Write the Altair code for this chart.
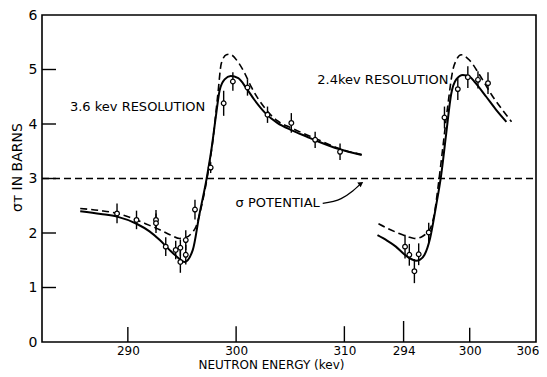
import altair as alt
import pandas as pd

# ---------------- data ----------------
# Left panel: 3.6 keV resolution (energies in keV)
left_solid_E = [285.6, 287.5, 289.0, 290.8, 292.0, 292.95, 293.8, 294.5, 295.25, 296.0, 296.6,
                297.25, 297.71, 298.17, 298.48, 298.94, 299.5, 300.2, 300.94, 301.7, 302.7,
                303.8, 305.2, 306.5, 307.7, 309.5, 311.6]
left_solid_S = [2.40, 2.35, 2.30, 2.17, 2.03, 1.87, 1.70, 1.57, 1.47, 1.69, 2.33,
                2.97, 3.52, 4.20, 4.62, 4.82, 4.88, 4.84, 4.66, 4.44, 4.20,
                4.02, 3.88, 3.77, 3.67, 3.54, 3.43]
left_dash_E = [285.6, 287.5, 289.0, 290.8, 292.0, 292.95, 294.0, 294.8, 295.4, 295.9, 296.3,
               296.79, 297.4, 297.86, 298.32, 298.63, 299.1, 299.4, 300.17, 300.8, 301.4,
               302.7, 303.8, 305.2, 307.7, 309.5, 311.6]
left_dash_S = [2.45, 2.41, 2.36, 2.24, 2.14, 2.06, 1.96, 1.90, 1.92, 2.00, 2.12,
               2.48, 3.10, 3.71, 4.56, 5.11, 5.27, 5.28, 5.14, 4.93, 4.68,
               4.28, 4.06, 3.92, 3.70, 3.55, 3.44]
left_pts_E = [289.0, 290.8, 292.6, 292.6, 293.5, 294.42, 294.85, 294.85, 295.35, 295.35, 296.2,
              297.65, 298.85, 299.7, 301.05, 302.9, 305.1, 307.3, 309.6]
left_pts_S = [2.36, 2.24, 2.24, 2.18, 1.75, 1.69, 1.73, 1.47, 1.87, 1.60, 2.43,
              3.20, 4.38, 4.78, 4.67, 4.17, 4.02, 3.71, 3.49]
left_pts_err = [0.18, 0.17, 0.18, 0.18, 0.17, 0.17, 0.15, 0.20, 0.18, 0.18, 0.18,
                0.10, 0.23, 0.17, 0.15, 0.15, 0.18, 0.15, 0.15]

# Right panel: 2.4 keV resolution (energies in keV)
right_solid_E = [291.63, 292.5, 293.3, 294.0, 294.52, 295.13, 295.5, 295.9, 296.4, 296.95,
                 297.4, 297.87, 298.32, 298.78, 299.38, 299.99, 300.5, 301.5, 302.4, 303.33]
right_solid_S = [1.96, 1.86, 1.75, 1.62, 1.54, 1.49, 1.51, 1.60, 1.90, 2.50,
                 3.05, 3.83, 4.55, 4.82, 4.90, 4.87, 4.76, 4.50, 4.26, 4.04]
right_dash_E = [291.72, 292.6, 293.6, 294.4, 294.98, 295.4, 295.73, 296.1, 296.5, 296.8, 297.1,
                297.55, 298.0, 298.47, 298.78, 299.23, 299.99, 300.9, 302.1, 303.0, 303.8]
right_dash_S = [2.17, 2.08, 1.99, 1.93, 1.90, 1.91, 1.94, 2.00, 2.12, 2.36, 2.80,
                3.55, 4.32, 4.99, 5.17, 5.27, 5.17, 4.90, 4.50, 4.25, 4.04]
right_pts_E = [294.13, 294.52, 294.98, 295.37, 296.28, 297.71, 298.92, 299.83, 300.75, 301.66]
right_pts_S = [1.75, 1.60, 1.30, 1.61, 2.01, 4.12, 4.64, 4.86, 4.81, 4.75]
right_pts_err = [0.22, 0.20, 0.22, 0.20, 0.18, 0.20, 0.20, 0.20, 0.16, 0.20]

sigma_potential = 3.0
left_ticks = [290, 300, 310]
right_ticks = [294, 300, 306]
y_ticks = [0, 1, 2, 3, 4, 5, 6]

# arrow from "σ POTENTIAL" label to the dashed line (left-axis keV, barns)
arrow_E = [308.0, 309.7, 310.77, 311.54]
arrow_S = [2.545, 2.63, 2.77, 2.91]

# ---------------- composite x axis (two broken energy scales) ----------------
X_MIN, X_MAX = 282.07, 327.7
R0, RS = 315.47, 1.0178   # right panel: position of 294 keV and relative scale


def right_pos(E):
    return [R0 + (e - 294) * RS for e in E]


curves = pd.concat([
    pd.DataFrame({"x": left_solid_E, "y": left_solid_S, "c": "ls", "kind": "solid"}),
    pd.DataFrame({"x": right_pos(right_solid_E), "y": right_solid_S, "c": "rs", "kind": "solid"}),
    pd.DataFrame({"x": left_dash_E, "y": left_dash_S, "c": "ld", "kind": "dash"}),
    pd.DataFrame({"x": right_pos(right_dash_E), "y": right_dash_S, "c": "rd", "kind": "dash"}),
])
pts = pd.concat([
    pd.DataFrame({"x": left_pts_E, "y": left_pts_S, "e": left_pts_err}),
    pd.DataFrame({"x": right_pos(right_pts_E), "y": right_pts_S, "e": right_pts_err}),
])
pts["lo"] = pts["y"] - pts["e"]
pts["hi"] = pts["y"] + pts["e"]

tick_pos = left_ticks + right_pos(right_ticks)
xt = pd.DataFrame({"x": tick_pos, "len": [0.275, 0.29, 0.29, 0.385, 0.26, 0.0]})
yt = pd.DataFrame({"y": y_ticks[1:-1]})

FONT = "DejaVu Sans"
xs = alt.Scale(domain=[X_MIN, X_MAX], nice=False, zero=False)
ys = alt.Scale(domain=[0, 6], nice=False, zero=False)

label_expr = ("datum.value > 312 ? format(round((datum.value - %s)/%s + 294), 'd') : "
              "format(datum.value, 'd')" % (R0, RS))

base_axis_x = alt.Axis(values=tick_pos, labelExpr=label_expr, ticks=False, domain=False,
                       grid=False, labelFontSize=12, labelPadding=3, labelFlush=2,
                       labelFlushOffset=3,
                       title="NEUTRON ENERGY (kev)", titleFontSize=12, titleFontWeight="normal",
                       titleX=229, titleY=26, titleBaseline="alphabetic", titleAnchor="middle",
                       titleAlign="center", labelColor="black", titleColor="black",
                       labelFont=FONT, titleFont=FONT)
base_axis_y = alt.Axis(values=y_ticks, format="d", ticks=False, domain=False, grid=False,
                       labelFontSize=14, labelPadding=5, title="σᴛ  IN  BARNS",
                       titleFontSize=14, titleFontWeight="normal", titleX=-18, titleY=152,
                       titleAngle=-90, titleBaseline="bottom", titleAlign="center",
                       labelColor="black", titleColor="black", labelFont=FONT, titleFont=FONT)

# horizontal potential line
hline = alt.Chart(pd.DataFrame({"y": [sigma_potential]})).mark_rule(
    color="black", strokeWidth=1.4, strokeDash=[7, 4]
).encode(
    x=alt.value(0), x2=alt.value(494),
    y=alt.Y("y:Q", scale=ys, axis=base_axis_y),
)

solid = alt.Chart(curves[curves.kind == "solid"]).mark_line(
    color="black", strokeWidth=2, interpolate="monotone"
).encode(
    x=alt.X("x:Q", scale=xs, axis=base_axis_x),
    y=alt.Y("y:Q", scale=ys),
    detail="c:N",
)
dashed = alt.Chart(curves[curves.kind == "dash"]).mark_line(
    color="black", strokeWidth=1.6, strokeDash=[7, 4], interpolate="monotone"
).encode(
    x=alt.X("x:Q", scale=xs), y=alt.Y("y:Q", scale=ys), detail="c:N",
)

bars = alt.Chart(pts).mark_rule(color="black", strokeWidth=1.4).encode(
    x=alt.X("x:Q", scale=xs), y=alt.Y("lo:Q", scale=ys), y2="hi:Q"
)
dots = alt.Chart(pts).mark_point(
    shape="circle", size=22, filled=True, fill="white", stroke="black", strokeWidth=1.2, opacity=1
).encode(x=alt.X("x:Q", scale=xs), y=alt.Y("y:Q", scale=ys))

xticks = alt.Chart(xt).transform_calculate(y0="0").mark_rule(color="black", strokeWidth=1.4).encode(
    x=alt.X("x:Q", scale=xs), y=alt.Y("y0:Q", scale=ys), y2="len:Q"
)
yticks = alt.Chart(yt).mark_rule(color="black", strokeWidth=1.4).encode(
    x=alt.value(0), x2=alt.value(14), y=alt.Y("y:Q", scale=ys)
)

labels = pd.DataFrame({
    "x": [284.65, 307.5, 299.95],
    "y": [4.31, 4.81, 2.545],
    "t": ["3.6 kev  RESOLUTION", "2.4kev RESOLUTION", "σ  POTENTIAL"],
})
texts = alt.Chart(labels).mark_text(
    align="left", baseline="middle", fontSize=13, font=FONT, color="black"
).encode(x=alt.X("x:Q", scale=xs), y=alt.Y("y:Q", scale=ys), text="t:N")

arrow_df = pd.DataFrame({"x": arrow_E, "y": arrow_S})
arrow = alt.Chart(arrow_df).mark_line(color="black", strokeWidth=1.3, interpolate="monotone").encode(
    x=alt.X("x:Q", scale=xs), y=alt.Y("y:Q", scale=ys)
)
head = alt.Chart(arrow_df.tail(1)).mark_point(
    shape="triangle-up", size=35, filled=True, color="black", angle=55, opacity=1
).encode(x=alt.X("x:Q", scale=xs), y=alt.Y("y:Q", scale=ys))

chart = alt.layer(
    hline, solid, dashed, bars, dots, xticks, yticks, texts, arrow, head
).properties(
    width=494, height=327,
    autosize=alt.AutoSizeParams(type="none"),
    padding={"left": 34, "top": 7, "right": 3, "bottom": 29},
    background="white",
).configure_view(
    stroke="black", strokeWidth=1.6
)

chart.save("out.html", embed_options={"renderer": "svg", "actions": False})
